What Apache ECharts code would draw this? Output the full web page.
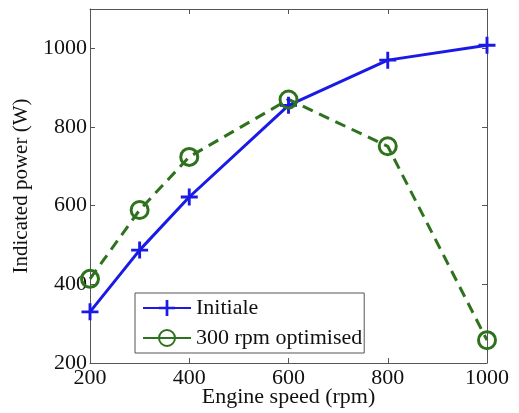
<!DOCTYPE html>
<html><head><meta charset="utf-8">
<script src="https://cdn.jsdelivr.net/npm/echarts@6/dist/echarts.min.js"></script>
<style>html,body{margin:0;padding:0;background:#fff}#c{width:519px;height:413px}</style>
</head><body><div id="c"></div>
<script>
const speeds = [200, 300, 400, 600, 800, 1000];
const initiale = [330, 487, 622, 855, 970, 1008];
const optimised = [414, 589, 724, 870, 751, 258];
const seriesNames = ['Initiale', '300 rpm optimised'];
const xTicks = [200, 400, 600, 800, 1000];
const yTicks = [200, 400, 600, 800, 1000];

const font = 'Liberation Serif';
const axisCol = '#555';
const blue = '#1a1ae6';
const green = '#2f721d';
const plus = 'path://M-1.7,-10 L1.7,-10 L1.7,-1.7 L10,-1.7 L10,1.7 L1.7,1.7 L1.7,10 L-1.7,10 L-1.7,1.7 L-10,1.7 L-10,-1.7 L-1.7,-1.7 Z';

const chart = echarts.init(document.getElementById('c'));
const baseX = {type:'value', min:200, max:1000, interval:200,
  axisLine:{show:true, lineStyle:{color:axisCol, width:1}},
  axisTick:{show:true, inside:true, length:5, lineStyle:{color:axisCol}},
  splitLine:{show:false}};
const baseY = {type:'value', min:200, max:1100, interval:200,
  axisLine:{show:true, lineStyle:{color:axisCol, width:1}},
  axisTick:{show:true, inside:true, length:5, lineStyle:{color:axisCol}},
  splitLine:{show:false}};
chart.setOption({
  animation:false,
  grid:{left:90, right:32, top:9, bottom:50, containLabel:false, outerBoundsMode:'none'},
  legend:{
    orient:'vertical', left:135, top:293,
    data:seriesNames,
    itemWidth:48, itemHeight:20, itemGap:8,
    padding:[4, 2, 4, 7],
    borderColor:'#555', borderWidth:1, backgroundColor:'#fff',
    lineStyle:{type:'solid'},
    textStyle:{fontFamily:font, fontSize:22, color:'#111'}
  },
  xAxis:[
    Object.assign({}, baseX, {position:'bottom',
      axisLabel:{fontFamily:font, fontSize:22, color:'#111', margin:4,
        formatter:v => xTicks.includes(v) ? String(v) : ''},
      name:'Engine speed (rpm)', nameLocation:'middle', nameGap:23, nameMoveOverlap:false,
      nameTextStyle:{fontFamily:font, fontSize:22, color:'#111'}}),
    Object.assign({}, baseX, {position:'top', axisLabel:{show:false}})
  ],
  yAxis:[
    Object.assign({}, baseY, {position:'left',
      axisLabel:{fontFamily:font, fontSize:22, color:'#111', margin:3, showMaxLabel:false,
        formatter:v => yTicks.includes(v) ? String(v) : ''},
      name:'Indicated power (W)', nameLocation:'middle', nameGap:54, nameRotate:90,
      nameTextStyle:{fontFamily:font, fontSize:21, color:'#111'}}),
    Object.assign({}, baseY, {position:'right', axisLabel:{show:false}})
  ],
  series:[
    {name:seriesNames[0], type:'line', data:speeds.map((s,i)=>[s, initiale[i]]),
      symbol:plus, symbolSize:17, showAllSymbol:true,
      lineStyle:{color:blue, width:3}, itemStyle:{color:blue}},
    {name:seriesNames[1], type:'line', data:speeds.map((s,i)=>[s, optimised[i]]),
      symbol:'circle', symbolSize:17, showAllSymbol:true,
      lineStyle:{color:green, width:3, type:[11,7]},
      itemStyle:{color:'rgba(0,0,0,0)', borderColor:green, borderWidth:3}}
  ]
});
</script></body></html>
